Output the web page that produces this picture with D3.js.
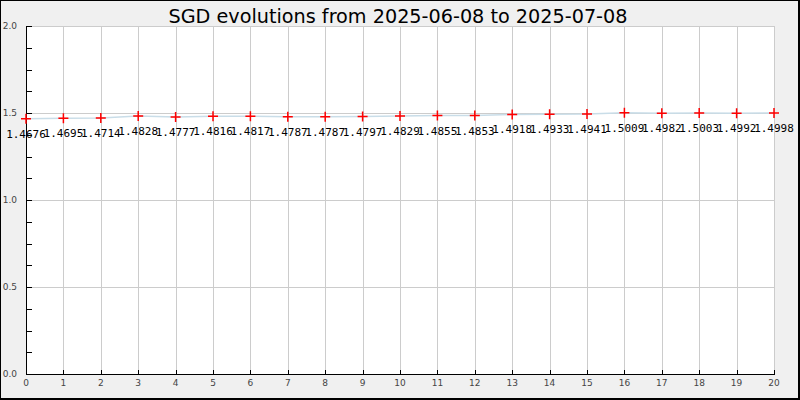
<!DOCTYPE html>
<html>
<head>
<meta charset="utf-8">
<script src="https://cdn.jsdelivr.net/npm/d3@7"></script>
<style>
html,body{margin:0;padding:0;background:#f0f0f0;}
svg{display:block;}
</style>
</head>
<body>
<svg id="chart" width="800" height="400"></svg>
<script>
const titleText = "SGD evolutions from 2025-06-08 to 2025-07-08";
const xIndex = [0,1,2,3,4,5,6,7,8,9,10,11,12,13,14,15,16,17,18,19,20];
const values = [1.4676,1.4695,1.4714,1.4828,1.4777,1.4816,1.4817,1.4787,1.4787,1.4797,1.4829,1.4855,1.4853,1.4918,1.4933,1.4941,1.5009,1.4982,1.5003,1.4992,1.4998];
const yMajorTicks = [0.0,0.5,1.0,1.5,2.0];
const yMinorTicks = [0.125,0.25,0.375,0.625,0.75,0.875,1.125,1.25,1.375,1.625,1.75,1.875];

const svg = d3.select("#chart");
const W = 800, H = 400;
const pLeft = 26, pRight = 774, pTop = 26, pBottom = 374;

svg.append("rect").attr("x",0).attr("y",0).attr("width",W).attr("height",H).attr("fill","#f0f0f0");

const x = d3.scaleLinear().domain([0,20]).range([pLeft,pRight]);
const y = d3.scaleLinear().domain([0,2]).range([pBottom,pTop]);

// plot area
svg.append("rect").attr("x",pLeft+0.5).attr("y",pTop+0.5).attr("width",pRight-pLeft).attr("height",pBottom-pTop)
  .attr("fill","#ffffff").attr("stroke","#cccccc").attr("stroke-width",1);

// vertical grid
svg.append("g").selectAll("line").data(xIndex.filter(d=>d>0&&d<20)).join("line")
  .attr("x1",d=>Math.round(x(d))+0.5).attr("x2",d=>Math.round(x(d))+0.5)
  .attr("y1",pTop).attr("y2",pBottom)
  .attr("stroke","#cccccc").attr("stroke-width",1);
// horizontal grid
svg.append("g").selectAll("line").data(yMajorTicks.filter(d=>d>0&&d<2)).join("line")
  .attr("x1",pLeft).attr("x2",pRight)
  .attr("y1",d=>Math.round(y(d))+0.5).attr("y2",d=>Math.round(y(d))+0.5)
  .attr("stroke","#cccccc").attr("stroke-width",1);

// line
const line = d3.line().x((d,i)=>x(xIndex[i])).y(d=>y(d));
svg.append("path").datum(values).attr("d",line)
  .attr("fill","none").attr("stroke","#c9dde8").attr("stroke-width",1.5);

// value labels
svg.append("g").selectAll("text").data(values).join("text")
  .attr("x",(d,i)=>x(xIndex[i])).attr("y",d=>y(d)+19)
  .attr("text-anchor","middle")
  .attr("font-family","'DejaVu Sans Mono', monospace").attr("font-size",11)
  .attr("fill","#000")
  .text(d=>d.toFixed(4));

// axes
const axG = svg.append("g");
axG.append("line").attr("x1",pLeft+0.5).attr("x2",pLeft+0.5).attr("y1",pTop).attr("y2",pBottom+1)
  .attr("stroke","#000").attr("stroke-width",1);
axG.append("line").attr("x1",pLeft).attr("x2",pRight+1).attr("y1",pBottom+0.5).attr("y2",pBottom+0.5)
  .attr("stroke","#000").attr("stroke-width",1);
// y ticks
axG.selectAll(".ytk").data(yMajorTicks.concat(yMinorTicks)).join("line").attr("class","ytk")
  .attr("x1",pLeft).attr("x2",pLeft+6)
  .attr("y1",d=>Math.round(y(d))+0.5).attr("y2",d=>Math.round(y(d))+0.5)
  .attr("stroke","#000");
// x ticks
axG.selectAll(".xtk").data(xIndex).join("line").attr("class","xtk")
  .attr("x1",d=>Math.round(x(d))+0.5).attr("x2",d=>Math.round(x(d))+0.5)
  .attr("y1",pBottom-4).attr("y2",pBottom+1)
  .attr("stroke","#000");

// markers
svg.append("g").selectAll("path").data(values).join("path")
  .attr("transform",(d,i)=>`translate(${x(xIndex[i])},${y(d)})`)
  .attr("d","M-5,0H5M0,-5V5")
  .attr("stroke","#ff0000").attr("stroke-width",1.5).attr("fill","none");

// tick labels
svg.append("g").selectAll("text").data(yMajorTicks).join("text")
  .attr("x",17).attr("y",d=>y(d)+3)
  .attr("text-anchor","end")
  .attr("font-family","'DejaVu Sans', sans-serif").attr("font-size",9)
  .attr("fill","#444").text(d=>d.toFixed(1));
svg.append("g").selectAll("text").data(xIndex).join("text")
  .attr("x",d=>x(d)).attr("y",386)
  .attr("text-anchor","middle")
  .attr("font-family","'DejaVu Sans', sans-serif").attr("font-size",9)
  .attr("fill","#444").text(d=>d);

// title
svg.append("text").attr("x",398).attr("y",23).attr("text-anchor","middle")
  .attr("font-family","'DejaVu Sans', sans-serif").attr("font-size",20)
  .attr("textLength",459).attr("lengthAdjust","spacingAndGlyphs")
  .attr("fill","#000").text(titleText);

// outer border
svg.append("rect").attr("x",0.5).attr("y",0.5).attr("width",798).attr("height",398)
  .attr("fill","none").attr("stroke","#000").attr("stroke-width",1);
svg.append("path").attr("d","M799.5,0V400M0,399.5H800").attr("stroke","#000").attr("stroke-width",1);
</script>
</body>
</html>
